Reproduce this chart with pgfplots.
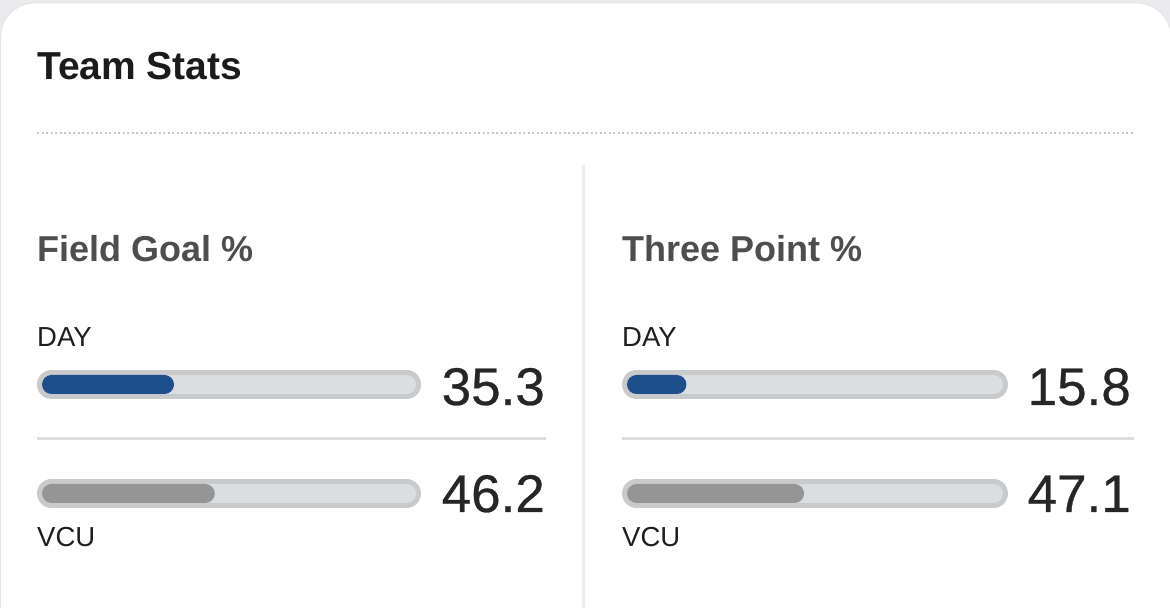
\documentclass[border=0pt]{standalone}
\usepackage{pgfplots}
\pgfplotsset{compat=1.18}
\usepackage{fontspec}
\setmainfont{Liberation Sans}
\newfontfamily\numfont{Liberation Sans}[FakeBold=0.5]
\definecolor{bg}{HTML}{EBEBED}
\definecolor{cardline}{HTML}{E4E4E6}
\definecolor{titlecol}{HTML}{1B1B1D}
\definecolor{headcol}{HTML}{4E4E50}
\definecolor{labcol}{HTML}{1E1E20}
\definecolor{numcol}{HTML}{262628}
\definecolor{dotcol}{HTML}{C8C8CA}
\definecolor{divcol}{HTML}{EDEDEF}
\definecolor{sepcol}{HTML}{DEDEDF}
\definecolor{trackborder}{HTML}{C9CACC}
\definecolor{trackfill}{HTML}{DCDDDF}
\definecolor{dayblue}{HTML}{1F4E8C}
\definecolor{vcugray}{HTML}{959595}

\pgfplotsset{
  panel/.style={
    anchor=south west, scale only axis, height=218bp,
    xmin=-2, xmax=104, ymin=-0.5, ymax=1.5, y dir=reverse,
    axis lines=none, clip=false,
  },
  fillbar/.style={xbar, bar shift=0pt, bar width=19bp, draw=none, rounded corners=9.5bp},
}
\tikzset{numlabel/.style={anchor=base east, inner sep=0pt, text=numcol, font=\fontsize{53bp}{55bp}\numfont}}
\newcommand{\track}[1]{%
  \draw[line width=29bp, line cap=round, trackborder] (axis cs:2.54,#1) -- (axis cs:97.46,#1);
  \draw[line width=19bp, line cap=round, trackfill] (axis cs:2.54,#1) -- (axis cs:97.46,#1);
}

\begin{document}
\begin{tikzpicture}[x=1bp,y=1bp]
\useasboundingbox (0,0) rectangle (1170,608);
\fill[bg] (0,0) rectangle (1170,608);
\begin{scope}
\clip (0,0) rectangle (1170,608);
\filldraw[fill=white, draw=cardline, line width=1bp, rounded corners=34bp] (0.5,605) rectangle (1171,-92);
\end{scope}

\node[anchor=base west, inner sep=0pt, text=titlecol, font=\fontsize{39bp}{41bp}\selectfont\bfseries] at (37,528) {Team Stats};
\draw[dotcol, line width=2bp, dash pattern=on 2bp off 2.5bp] (37,475) -- (1135,475);
\draw[divcol, line width=3bp] (583.5,443) -- (583.5,-4);

% panel titles and team labels
\node[anchor=base west, inner sep=0pt, text=headcol, font=\fontsize{36bp}{38bp}\selectfont\bfseries] at (37,346) {Field Goal \%};
\node[anchor=base west, inner sep=0pt, text=headcol, font=\fontsize{36bp}{38bp}\selectfont\bfseries] at (622,346) {Three Point \%};
\foreach \xx in {37,622}{
  \node[anchor=base west, inner sep=0pt, text=labcol, font=\fontsize{27.5bp}{29bp}\selectfont] at (\xx,261) {DAY};
  \node[anchor=base west, inner sep=0pt, text=labcol, font=\fontsize{27.5bp}{29bp}\selectfont] at (\xx,61) {VCU};
}

% Field Goal %
\begin{axis}[panel, at={(34.52bp,60bp)}, width=396.44bp]
\track{0}
\track{1}
\draw[sepcol, line width=2.5bp] (axis cs:-1.34,0.495) -- (axis cs:134.76,0.495);
\addplot[fillbar, fill=dayblue] coordinates {(35.3,0)};
\addplot[fillbar, fill=vcugray] coordinates {(46.2,1)};
\node[numlabel, yshift=-20.5bp] at (axis cs:134.5,0) {35.3};
\node[numlabel, yshift=-18.5bp] at (axis cs:134.5,1) {46.2};
\end{axis}

% Three Point %
\begin{axis}[panel, at={(619.48bp,60bp)}, width=398.56bp]
\track{0}
\track{1}
\draw[sepcol, line width=2.5bp] (axis cs:-1.33,0.495) -- (axis cs:134.84,0.495);
\addplot[fillbar, fill=dayblue] coordinates {(15.8,0)};
\addplot[fillbar, fill=vcugray] coordinates {(47.1,1)};
\node[numlabel, yshift=-20.5bp] at (axis cs:134.04,0) {15.8};
\node[numlabel, yshift=-18.5bp] at (axis cs:134.04,1) {47.1};
\end{axis}
\end{tikzpicture}
\end{document}
